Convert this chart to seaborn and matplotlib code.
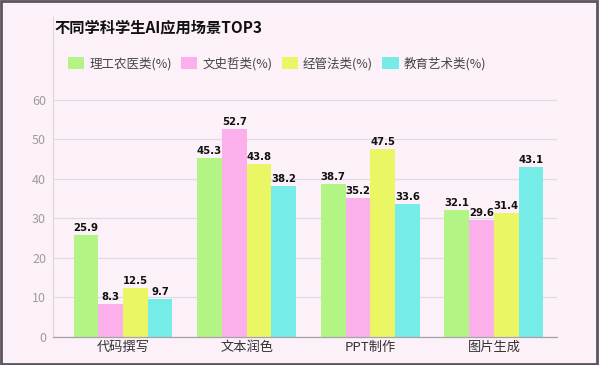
import matplotlib
matplotlib.use("Agg")
import matplotlib.pyplot as plt
import seaborn as sns
import pandas as pd

categories = ["代码撰写", "文本润色", "PPT制作", "图片生成"]
series_names = ["理工农医类(%)", "文史哲类(%)", "经管法类(%)", "教育艺术类(%)"]
stem = [25.9, 45.3, 38.7, 32.1]
humanities = [8.3, 52.7, 35.2, 29.6]
business = [12.5, 43.8, 47.5, 31.4]
education = [9.7, 38.2, 33.6, 43.1]
yticks = [0, 10, 20, 30, 40, 50, 60]
title = "不同学科学生AI应用场景TOP3"

colors = ["#b3f584", "#fbb0ec", "#ebf665", "#76ece8"]
bg = "#fcf1f9"

rows = []
for name, vals in zip(series_names, [stem, humanities, business, education]):
    for c, v in zip(categories, vals):
        rows.append({"场景": c, "学科": name, "值": v})
df = pd.DataFrame(rows)

sns.set_theme(style="white")
plt.rcParams["font.family"] = ["Noto Sans CJK SC", "DejaVu Sans"]

fig = plt.figure(figsize=(5.99, 3.65), dpi=100, facecolor=bg)
ax = fig.add_axes([53 / 599, 1 - 337 / 365, (557 - 53) / 599, (337 - 17) / 365])
ax.set_facecolor(bg)

sns.barplot(data=df, x="场景", y="值", hue="学科", palette=colors,
            saturation=1, width=0.8, ax=ax, edgecolor="none", linewidth=0)

for cont in ax.containers:
    ax.bar_label(cont, fmt="%.1f", padding=1.5, fontsize=7.3, fontweight="bold",
                 color="#111111", family=["DejaVu Sans"])

ax.set_ylim(0, 81)
ax.set_xlim(-0.566, 3.51)
ax.set_yticks(yticks)
ax.set_xlabel("")
ax.set_ylabel("")
ax.yaxis.grid(True, color="#e2dae2", linewidth=0.9)
ax.set_axisbelow(True)
ax.tick_params(axis="y", length=0, pad=5, labelsize=9, labelcolor="#a09aa0")
ax.tick_params(axis="x", length=0, pad=3, labelsize=9.5, labelcolor="#333333")
for s in ["top", "right"]:
    ax.spines[s].set_visible(False)
ax.spines["left"].set_color("#e0d8e0")
ax.spines["left"].set_linewidth(0.9)
ax.spines["bottom"].set_color("#a8a2a8")
ax.spines["bottom"].set_linewidth(0.9)

handles, labels = ax.get_legend_handles_labels()
ax.get_legend().remove()
fig.legend(handles, labels, loc="center left", bbox_to_anchor=(68 / 599, 1 - 64 / 365),
           ncol=4, frameon=False, fontsize=9, labelcolor="#444444",
           handlelength=1.3, handleheight=1.1, handletextpad=0.4, columnspacing=0.75,
           borderaxespad=0, borderpad=0)

fig.text(54 / 599, 1 - 27 / 365, title, fontsize=11, fontweight="heavy",
         color="#111111", va="center", ha="left")

# figure border
fig.patches.append(plt.Rectangle((0.002, 0.003), 0.994, 0.994, transform=fig.transFigure,
                                 fill=False, edgecolor="#5a5460", linewidth=2))

fig.savefig("out.png", dpi=100, facecolor=bg)
